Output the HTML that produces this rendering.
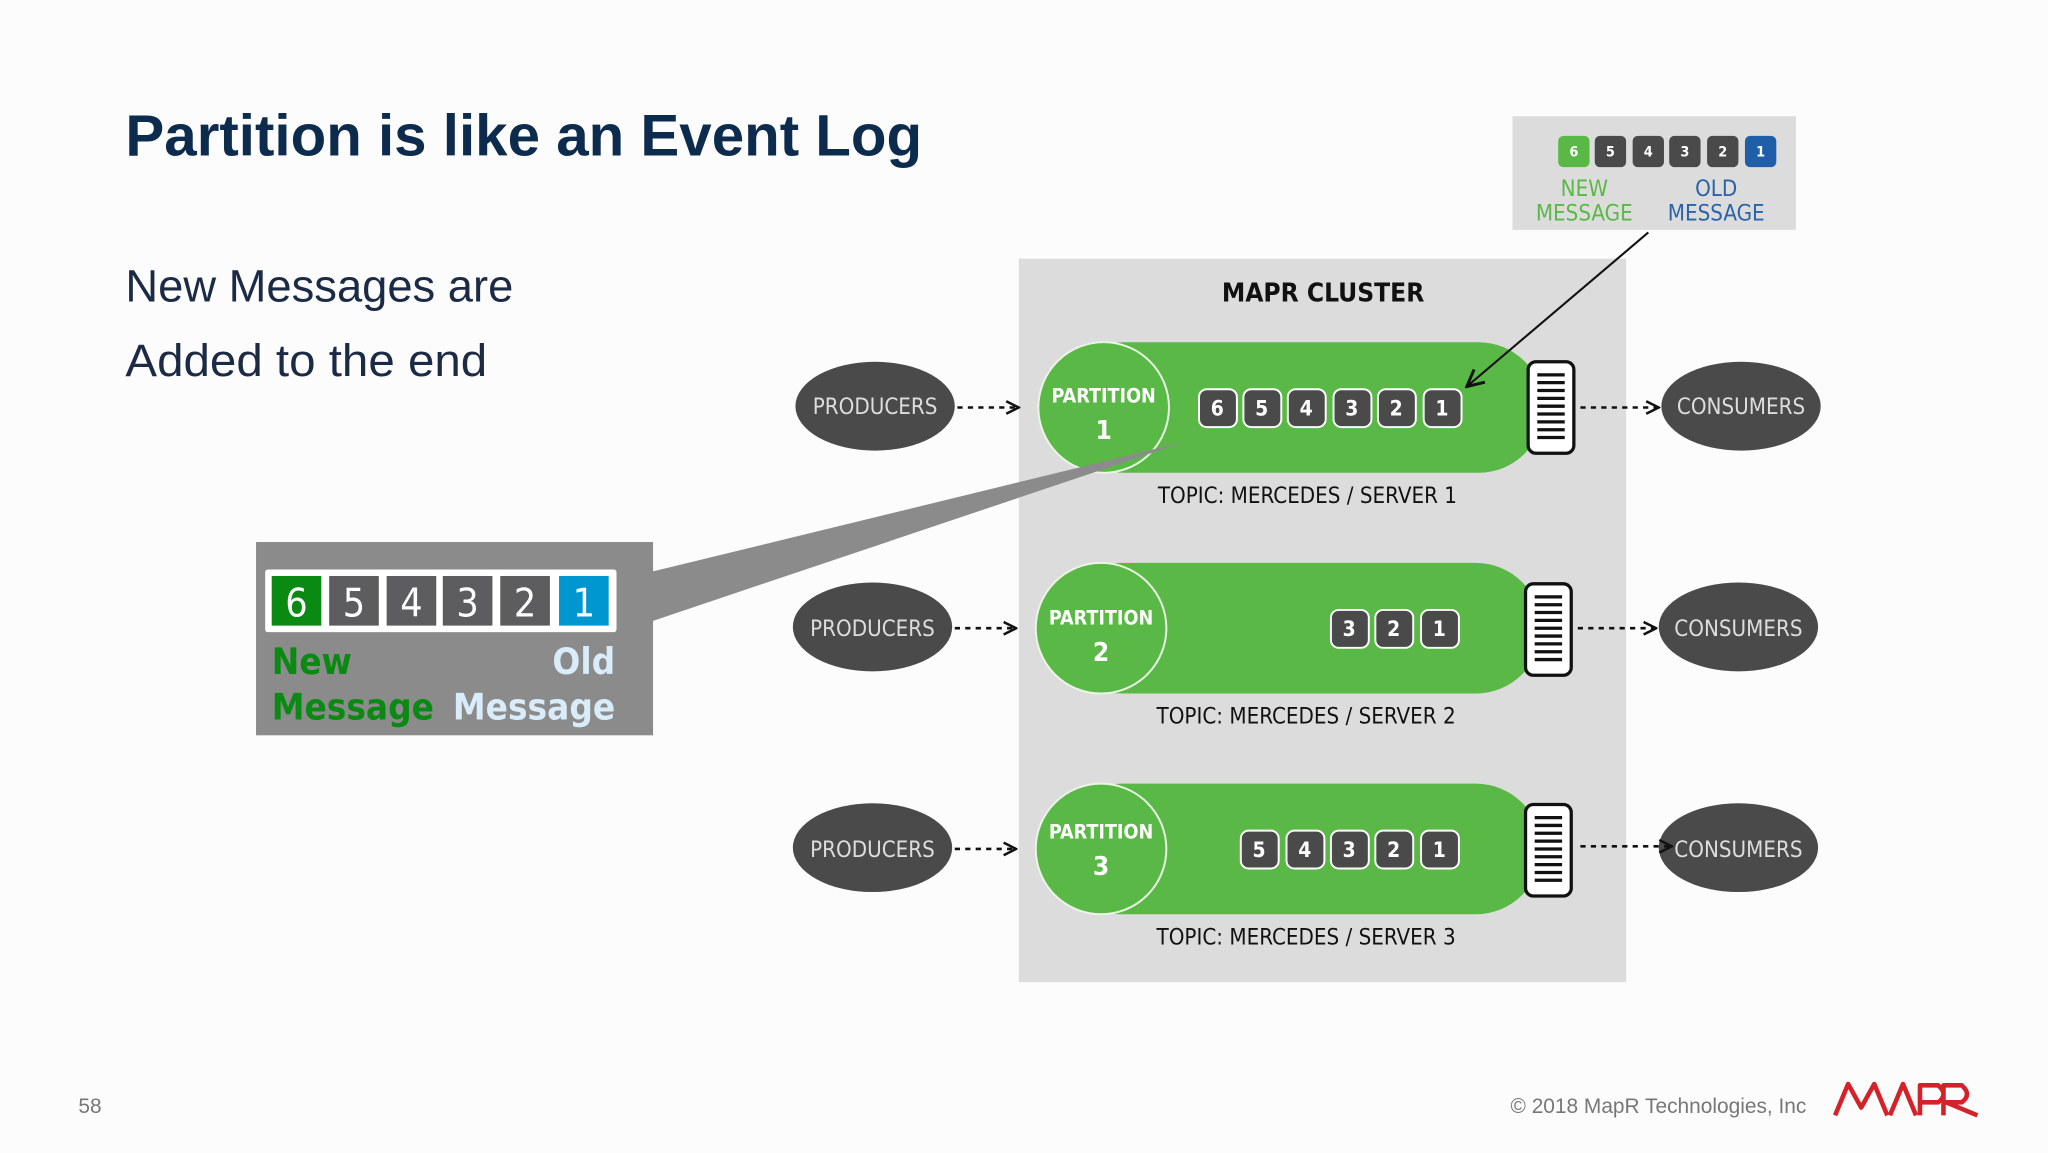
<!DOCTYPE html>
<html><head><meta charset="utf-8"><style>
html,body{margin:0;padding:0;background:#fcfcfc;}
svg{display:block;}
text{font-family:"DejaVu Sans Condensed","Liberation Sans",sans-serif;}
</style></head><body>
<svg width="2048" height="1153" viewBox="0 0 1568 882.8" xmlns="http://www.w3.org/2000/svg">
<defs>
<marker id="ar" viewBox="0 0 10 10" refX="9" refY="5" markerWidth="12" markerHeight="14" orient="auto" markerUnits="userSpaceOnUse">
<path d="M1 1 L9 5 L1 9" fill="none" stroke="#111" stroke-width="1.6"/></marker>
<marker id="ar2" viewBox="0 0 10 10" refX="9" refY="5" markerWidth="16" markerHeight="16" orient="auto" markerUnits="userSpaceOnUse">
<path d="M1 1 L9 5 L1 9" fill="none" stroke="#111" stroke-width="1.4"/></marker>
<g id="buf">
<rect x="0" y="0" width="35" height="70" rx="6" fill="#fff" stroke="#111" stroke-width="2.5"/>
<g stroke="#111" stroke-width="2.5">
<line x1="7" y1="10" x2="28" y2="10"/><line x1="7" y1="16" x2="28" y2="16"/><line x1="7" y1="22" x2="28" y2="22"/><line x1="7" y1="28" x2="28" y2="28"/><line x1="7" y1="34" x2="28" y2="34"/><line x1="7" y1="40" x2="28" y2="40"/><line x1="7" y1="46" x2="28" y2="46"/><line x1="7" y1="52" x2="28" y2="52"/><line x1="7" y1="58" x2="28" y2="58"/></g></g>
</defs>
<rect width="1568" height="883" fill="#fcfcfc"/>
<text x="96" y="119" style="font-family:'Liberation Sans',sans-serif" font-weight="bold" font-size="45" fill="#0d2b4d" textLength="610" lengthAdjust="spacingAndGlyphs">Partition is like an Event Log</text>
<text x="96" y="231" style="font-family:'Liberation Sans',sans-serif" font-size="35" fill="#1b2b45" textLength="297" lengthAdjust="spacingAndGlyphs">New Messages are</text>
<text x="96" y="288" style="font-family:'Liberation Sans',sans-serif" font-size="35" fill="#1b2b45" textLength="277" lengthAdjust="spacingAndGlyphs">Added to the end</text>

<rect x="780" y="198" width="465" height="554" fill="#dddcdc"/>
<text x="1013" y="231" text-anchor="middle" font-weight="bold" font-size="20" fill="#111">MAPR CLUSTER</text>

<rect x="1158" y="89" width="217" height="87" fill="#dddcdc"/>
<g font-size="11" font-weight="bold" fill="#fff" text-anchor="middle">
<rect x="1193" y="104" width="24" height="24" rx="4" fill="#5ab946"/><text x="1205" y="120">6</text>
<rect x="1221" y="104" width="24" height="24" rx="4" fill="#4a4a4a"/><text x="1233" y="120">5</text>
<rect x="1250" y="104" width="24" height="24" rx="4" fill="#4a4a4a"/><text x="1262" y="120">4</text>
<rect x="1278" y="104" width="24" height="24" rx="4" fill="#4a4a4a"/><text x="1290" y="120">3</text>
<rect x="1307" y="104" width="24" height="24" rx="4" fill="#4a4a4a"/><text x="1319" y="120">2</text>
<rect x="1336" y="104" width="24" height="24" rx="4" fill="#1f5fa8"/><text x="1348" y="120">1</text>
</g>
<g font-size="17" text-anchor="middle">
<text x="1213" y="150" fill="#5ab946">NEW</text><text x="1213" y="169" fill="#5ab946">MESSAGE</text>
<text x="1314" y="150" fill="#2a63a8">OLD</text><text x="1314" y="169" fill="#2a63a8">MESSAGE</text>
</g>

<g>
<rect x="810" y="262" width="372" height="100" rx="50" fill="#5ab946"/>
<circle cx="845" cy="312" r="50" fill="#5ab946" stroke="#eaf5e6" stroke-width="1.5"/>
<text x="845" y="308" text-anchor="middle" font-weight="bold" font-size="15" fill="#fff">PARTITION</text>
<text x="845" y="336" text-anchor="middle" font-weight="bold" font-size="20" fill="#fff">1</text>
<use href="#buf" x="1170" y="277"/>
<text x="1001" y="385" text-anchor="middle" font-size="17" fill="#111">TOPIC: MERCEDES /  SERVER 1</text>
</g>
<g>
<rect x="808" y="431" width="372" height="100" rx="50" fill="#5ab946"/>
<circle cx="843" cy="481" r="50" fill="#5ab946" stroke="#eaf5e6" stroke-width="1.5"/>
<text x="843" y="478" text-anchor="middle" font-weight="bold" font-size="15" fill="#fff">PARTITION</text>
<text x="843" y="506" text-anchor="middle" font-weight="bold" font-size="20" fill="#fff">2</text>
<use href="#buf" x="1168" y="447"/>
<text x="1000" y="554" text-anchor="middle" font-size="17" fill="#111">TOPIC: MERCEDES /  SERVER 2</text>
</g>
<g>
<rect x="808" y="600" width="372" height="100" rx="50" fill="#5ab946"/>
<circle cx="843" cy="650" r="50" fill="#5ab946" stroke="#eaf5e6" stroke-width="1.5"/>
<text x="843" y="642" text-anchor="middle" font-weight="bold" font-size="15" fill="#fff">PARTITION</text>
<text x="843" y="670" text-anchor="middle" font-weight="bold" font-size="20" fill="#fff">3</text>
<use href="#buf" x="1168" y="616"/>
<text x="1000" y="723" text-anchor="middle" font-size="17" fill="#111">TOPIC: MERCEDES /  SERVER 3</text>
</g>

<g font-size="16" font-weight="bold" fill="#fff" text-anchor="middle" stroke="#fff">
<g stroke-width="1.5">
<rect x="918" y="298" width="29" height="29" rx="6" fill="#4a4a4a"/><rect x="952" y="298" width="29" height="29" rx="6" fill="#4a4a4a"/><rect x="986" y="298" width="29" height="29" rx="6" fill="#4a4a4a"/><rect x="1021" y="298" width="29" height="29" rx="6" fill="#4a4a4a"/><rect x="1055" y="298" width="29" height="29" rx="6" fill="#4a4a4a"/><rect x="1090" y="298" width="29" height="29" rx="6" fill="#4a4a4a"/>
<rect x="1019" y="467" width="29" height="29" rx="6" fill="#4a4a4a"/><rect x="1053" y="467" width="29" height="29" rx="6" fill="#4a4a4a"/><rect x="1088" y="467" width="29" height="29" rx="6" fill="#4a4a4a"/>
<rect x="950" y="636" width="29" height="29" rx="6" fill="#4a4a4a"/><rect x="985" y="636" width="29" height="29" rx="6" fill="#4a4a4a"/><rect x="1019" y="636" width="29" height="29" rx="6" fill="#4a4a4a"/><rect x="1053" y="636" width="29" height="29" rx="6" fill="#4a4a4a"/><rect x="1088" y="636" width="29" height="29" rx="6" fill="#4a4a4a"/>
</g>
<g stroke="none">
<text x="932" y="318">6</text><text x="966" y="318">5</text><text x="1000" y="318">4</text><text x="1035" y="318">3</text><text x="1069" y="318">2</text><text x="1104" y="318">1</text>
<text x="1033" y="487">3</text><text x="1067" y="487">2</text><text x="1102" y="487">1</text>
<text x="964" y="656">5</text><text x="999" y="656">4</text><text x="1033" y="656">3</text><text x="1067" y="656">2</text><text x="1102" y="656">1</text>
</g></g>

<g font-size="17" fill="#ddd" text-anchor="middle">
<ellipse cx="670" cy="311" rx="61" ry="34" fill="#4a4a4a"/><text x="670" y="317">PRODUCERS</text>
<ellipse cx="668" cy="480" rx="61" ry="34" fill="#4a4a4a"/><text x="668" y="487">PRODUCERS</text>
<ellipse cx="668" cy="649" rx="61" ry="34" fill="#4a4a4a"/><text x="668" y="656">PRODUCERS</text>
<ellipse cx="1333" cy="311" rx="61" ry="34" fill="#4a4a4a"/><text x="1333" y="317">CONSUMERS</text>
<ellipse cx="1331" cy="480" rx="61" ry="34" fill="#4a4a4a"/><text x="1331" y="487">CONSUMERS</text>
<ellipse cx="1331" cy="649" rx="61" ry="34" fill="#4a4a4a"/><text x="1331" y="656">CONSUMERS</text>
</g>
<g stroke="#111" stroke-width="2" stroke-dasharray="4 4" fill="none" marker-end="url(#ar)">
<line x1="733" y1="312" x2="780" y2="312"/><line x1="731" y1="481" x2="778" y2="481"/><line x1="731" y1="650" x2="778" y2="650"/>
<line x1="1210" y1="312" x2="1270" y2="312"/><line x1="1208" y1="481" x2="1268" y2="481"/><line x1="1210" y1="648" x2="1280" y2="648"/>
</g>
<line x1="1262" y1="178" x2="1123" y2="296" stroke="#111" stroke-width="1.6" marker-end="url(#ar2)"/>

<polygon points="498,438 908,338 498,476" fill="#8c8b8c"/>
<rect x="196" y="415" width="304" height="148" fill="#8c8b8c"/>
<rect x="203" y="436" width="269" height="48" rx="2" fill="#fff"/>
<g font-size="30" fill="#fff" text-anchor="middle" style="font-family:'Liberation Sans',sans-serif">
<rect x="208" y="441" width="38" height="38" fill="#0a8a13"/><text x="227" y="472">6</text>
<rect x="252" y="441" width="38" height="38" fill="#5d5d5f"/><text x="271" y="472">5</text>
<rect x="296" y="441" width="38" height="38" fill="#5d5d5f"/><text x="315" y="472">4</text>
<rect x="339" y="441" width="38" height="38" fill="#5d5d5f"/><text x="358" y="472">3</text>
<rect x="383" y="441" width="38" height="38" fill="#5d5d5f"/><text x="402" y="472">2</text>
<rect x="428" y="441" width="38" height="38" fill="#0096d0"/><text x="447" y="472">1</text>
</g>
<g font-size="28" font-weight="bold" style="font-family:'Liberation Sans',sans-serif">
<text x="208" y="516" fill="#0a8a13">New</text><text x="208" y="551" fill="#0a8a13">Message</text>
<text x="471" y="516" text-anchor="end" fill="#d8ecfa">Old</text><text x="471" y="551" text-anchor="end" fill="#d8ecfa">Message</text>
</g>

<text x="60" y="852" style="font-family:'Liberation Sans',sans-serif" font-size="16" fill="#777">58</text>
<text x="1383" y="852" text-anchor="end" style="font-family:'Liberation Sans',sans-serif" font-size="16" fill="#777">© 2018 MapR Technologies, Inc</text>
<path d="M1405 854 L1415 830 L1425 848 L1435 830 L1445 854 M1447 854 L1457 830 L1467 854 M1470 854 L1470 831 L1484 831 Q1492 838 1484 844 L1470 844 M1488 854 L1488 831 L1502 831 Q1510 838 1502 844 L1490 844 L1514 854" fill="none" stroke="#d3222a" stroke-width="3.5" stroke-linejoin="round"/>
</svg>
</body></html>
